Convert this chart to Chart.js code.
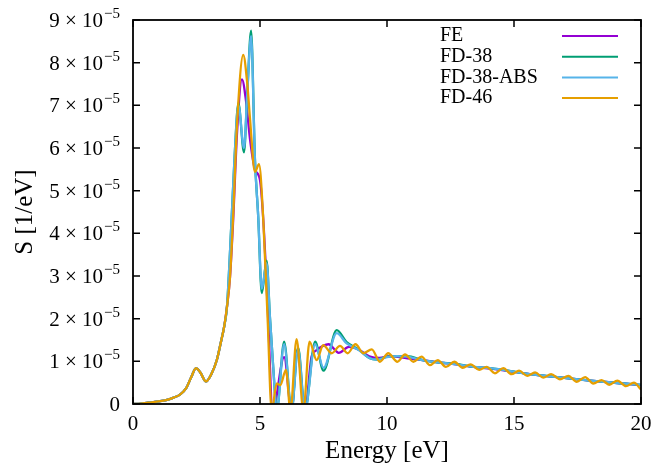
<!DOCTYPE html>
<html>
<head>
<meta charset="utf-8">
<script src="https://cdn.jsdelivr.net/npm/chart.js@4.4.0/dist/chart.umd.min.js"></script>
<style>
  html, body { margin: 0; padding: 0; background: #fff; }
  .chart-container { position: relative; width: 667px; height: 466px; }
</style>
</head>
<body>
<div class="chart-container">
  <canvas id="specChart"></canvas>
</div>

<script>
    // S values are in units of 1e-5 1/eV, energies in eV
    const UNIT = 1e-5;
    const seriesNames = ['FE', 'FD-38', 'FD-38-ABS', 'FD-46'];
    const seriesColors = ['#9400d3', '#009e73', '#56b4e9', '#e69f00'];

    // low energy part, the same for all four curves
    const riseE = [0, 0.3, 0.6, 1.0, 1.3, 1.6, 1.85, 2.1, 2.3, 2.48, 2.65, 2.87, 3.1, 3.3, 3.45, 3.6, 3.7];
    const riseS = [0, 0.01, 0.03, 0.06, 0.09, 0.15, 0.22, 0.38, 0.64, 0.84, 0.74, 0.53, 0.72, 1.03, 1.42, 1.85, 2.28];

    const feE = [3.82, 3.95, 4.1, 4.29, 4.45, 4.61, 4.8, 5.0, 5.13, 5.3, 5.5, 5.95, 6.24, 6.47, 6.77, 7.03, 7.2, 7.7, 8.1, 8.5, 8.9, 9.3, 9.7, 10.1, 10.8, 11.4, 12.1, 12.7, 13.4, 14.1, 15.4, 16.7, 18.0, 19.3, 20];
    const feS = [2.98, 4.39, 6.4, 7.61, 7.1, 6.19, 5.5, 5.25, 4.31, 2.3, -0.15, 1.1, -0.15, 1.26, -0.15, 1.11, 1.25, 1.40, 1.2, 1.34, 1.27, 1.12, 1.08, 1.12, 1.07, 1.03, 0.97, 0.93, 0.87, 0.83, 0.72, 0.63, 0.55, 0.48, 0.44];

    const fd38E = [3.88, 4.0, 4.15, 4.37, 4.5, 4.65, 4.8, 4.93, 5.07, 5.26, 5.39, 5.52, 5.66, 5.95, 6.24, 6.5, 6.77, 7.17, 7.5, 8.02, 8.41, 8.9, 9.3, 9.6, 10.0, 10.4, 10.8, 11.4, 12.1, 12.7, 13.4, 14.06, 15.4, 16.7, 18.0, 19.3, 20];
    const fd38S = [4.31, 5.8, 7.05, 5.9, 7.3, 8.75, 5.75, 4.39, 2.6, 3.36, 2.05, 0.87, -0.15, 1.46, -0.15, 1.32, -0.15, 1.46, 0.78, 1.73, 1.45, 1.27, 1.08, 1.04, 1.11, 1.12, 1.12, 1.03, 0.97, 0.94, 0.87, 0.84, 0.72, 0.63, 0.55, 0.48, 0.45];

    const fd38AbsE = fd38E;
    const fd38AbsS = [4.31, 5.8, 7.0, 6.0, 7.3, 8.62, 5.75, 4.39, 2.7, 3.3, 2.05, 0.87, -0.15, 1.40, -0.15, 1.28, -0.15, 1.40, 0.85, 1.66, 1.42, 1.26, 1.08, 1.04, 1.1, 1.12, 1.11, 1.03, 0.97, 0.93, 0.87, 0.84, 0.72, 0.63, 0.55, 0.48, 0.45];

    const fd46E = [3.82, 3.95, 4.1, 4.34, 4.5, 4.61, 4.8, 4.96, 5.13, 5.3, 5.46, 5.66, 5.8, 6.02, 6.2, 6.44, 6.71, 6.95, 7.23, 7.49, 7.82, 8.15, 8.45, 8.76, 9.07, 9.4, 9.72, 10.05, 10.41, 10.71, 11.04, 11.36, 11.69, 12.0, 12.32, 12.65, 12.98, 13.29, 13.63, 13.92, 14.25, 14.58, 14.9, 15.2, 15.52, 15.83, 16.15, 16.46, 16.81, 17.14, 17.47, 17.8, 18.12, 18.45, 18.75, 19.07, 19.41, 19.72, 20];
    const fd46S = [2.98, 4.5, 6.6, 8.18, 7.5, 6.66, 5.44, 5.62, 4.31, 2.0, -0.15, 0.48, 0.44, 0.8, -0.15, 1.52, -0.15, 1.46, 1.03, 1.38, 1.19, 1.36, 1.19, 1.40, 1.19, 1.28, 0.99, 1.19, 0.99, 1.16, 0.99, 1.11, 0.91, 1.03, 0.87, 0.99, 0.85, 0.93, 0.80, 0.87, 0.72, 0.84, 0.70, 0.78, 0.66, 0.74, 0.62, 0.70, 0.58, 0.66, 0.52, 0.63, 0.48, 0.56, 0.45, 0.55, 0.42, 0.50, 0.34];

    const xTicks = [0, 5, 10, 15, 20];
    const yTicks = [0, 1, 2, 3, 4, 5, 6, 7, 8, 9];

    const SERIF = '"Liberation Serif", "DejaVu Serif", serif';

    function toPoints(es, ss) {
        const all = riseE.concat(es);
        const vals = riseS.concat(ss);
        return all.map((e, i) => ({ x: e, y: vals[i] * UNIT }));
    }

    const curves = [[feE, feS], [fd38E, fd38S], [fd38AbsE, fd38AbsS], [fd46E, fd46S]];

    const datasets = curves.map((c, i) => ({
        label: seriesNames[i],
        data: toPoints(c[0], c[1]),
        borderColor: seriesColors[i],
        borderWidth: 2.3,
        pointRadius: 0,
        fill: false,
        cubicInterpolationMode: 'monotone',
        order: 4 - i   // later series drawn on top, like gnuplot
    }));

    // frame, inward ticks on all sides, y labels with a real superscript, gnuplot style key
    const framePlugin = {
        id: 'frame',
        afterDraw(chart) {
            const ctx = chart.ctx;
            const a = chart.chartArea;
            const xs = chart.scales.x, ys = chart.scales.y;
            ctx.save();
            ctx.strokeStyle = '#000';
            ctx.lineWidth = 1.8;
            ctx.strokeRect(a.left, a.top, a.right - a.left, a.bottom - a.top);
            ctx.lineWidth = 1.5;
            ctx.beginPath();
            xTicks.forEach(t => {
                const px = xs.getPixelForValue(t);
                ctx.moveTo(px, a.bottom); ctx.lineTo(px, a.bottom - 7);
                ctx.moveTo(px, a.top); ctx.lineTo(px, a.top + 7);
            });
            yTicks.forEach(t => {
                const py = ys.getPixelForValue(t * UNIT);
                ctx.moveTo(a.left, py); ctx.lineTo(a.left + 7, py);
                ctx.moveTo(a.right, py); ctx.lineTo(a.right - 7, py);
            });
            ctx.stroke();

            // y tick labels: "n × 10" with a raised "−5"
            ctx.fillStyle = '#000';
            ctx.textBaseline = 'alphabetic';
            ctx.textAlign = 'left';
            const rightEdge = a.left - 13;
            yTicks.forEach(t => {
                const py = ys.getPixelForValue(t * UNIT);
                const base = py + 7;
                if (t === 0) {
                    ctx.font = '21px ' + SERIF;
                    ctx.fillText('0', rightEdge - ctx.measureText('0').width, base);
                    return;
                }
                const main = t + ' × 10';
                const sup = '\u22125';
                ctx.font = '15px ' + SERIF;
                const wSup = ctx.measureText(sup).width;
                ctx.font = '21px ' + SERIF;
                const wMain = ctx.measureText(main).width;
                const x0 = rightEdge - wSup - wMain - 1;
                ctx.fillText(main, x0, base);
                ctx.font = '15px ' + SERIF;
                ctx.fillText(sup, x0 + wMain + 1, base - 9);
            });

            // key
            ctx.font = '20px ' + SERIF;
            ctx.textBaseline = 'middle';
            chart.data.datasets.forEach((ds, i) => {
                const y = 36 + i * 20.7;
                ctx.fillStyle = '#000';
                ctx.fillText(ds.label, 440, y);
                ctx.strokeStyle = ds.borderColor;
                ctx.lineWidth = 2;
                ctx.beginPath();
                ctx.moveTo(562, y); ctx.lineTo(618, y);
                ctx.stroke();
            });
            ctx.restore();
        }
    };

    const ctx = document.getElementById('specChart').getContext('2d');
    const chart = new Chart(ctx, {
        type: 'line',
        data: { datasets: datasets },
        options: {
            responsive: true,
            maintainAspectRatio: false,
            animation: false,
            layout: { padding: { left: 0, right: 26, top: 20, bottom: 0 } },
            plugins: {
                legend: { display: false },
                tooltip: { enabled: false }
            },
            scales: {
                x: {
                    type: 'linear',
                    min: 0,
                    max: 20,
                    afterBuildTicks: s => { s.ticks = xTicks.map(v => ({ value: v })); },
                    afterFit: s => { s.height = 62; },
                    grid: { display: false, drawTicks: false },
                    border: { display: false },
                    ticks: {
                        color: '#000',
                        padding: 8,
                        maxRotation: 0,
                        font: { family: SERIF, size: 21 }
                    },
                    title: {
                        display: true,
                        text: 'Energy [eV]',
                        color: '#000',
                        padding: { top: 0, bottom: 0 },
                        font: { family: SERIF, size: 25 }
                    }
                },
                y: {
                    type: 'linear',
                    min: 0,
                    max: 9 * UNIT,
                    afterBuildTicks: s => { s.ticks = yTicks.map(v => ({ value: v * UNIT })); },
                    afterFit: s => { s.width = 133; },
                    grid: { display: false, drawTicks: false },
                    border: { display: false },
                    ticks: { display: false },
                    title: {
                        display: true,
                        text: 'S [1/eV]',
                        color: '#000',
                        padding: { top: 10, bottom: 0 },
                        font: { family: SERIF, size: 25 }
                    }
                }
            }
        },
        plugins: [framePlugin]
    });
</script>
</body>
</html>
